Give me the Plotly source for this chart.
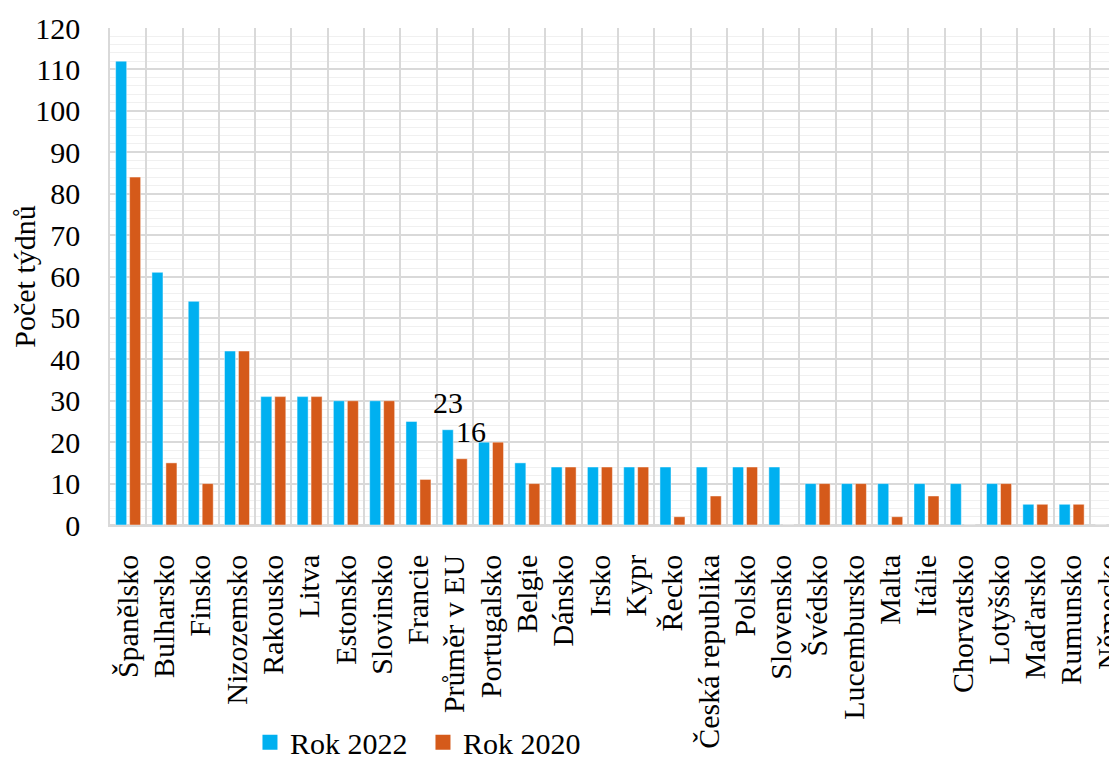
import plotly.graph_objects as go

categories = ["Španělsko", "Bulharsko", "Finsko", "Nizozemsko", "Rakousko", "Litva",
              "Estonsko", "Slovinsko", "Francie", "Průměr v EU", "Portugalsko", "Belgie",
              "Dánsko", "Irsko", "Kypr", "Řecko", "Česká republika", "Polsko", "Slovensko",
              "Švédsko", "Lucembursko", "Malta", "Itálie", "Chorvatsko", "Lotyšsko",
              "Maďarsko", "Rumunsko", "Německo"]
rok_2022 = [112, 61, 54, 42, 31, 31, 30, 30, 25, 23, 20, 15, 14, 14, 14, 14, 14, 14, 14,
            10, 10, 10, 10, 10, 10, 5, 5, 0]
rok_2020 = [84, 15, 10, 42, 31, 31, 30, 30, 11, 16, 20, 10, 14, 14, 14, 2, 7, 14, 0,
            10, 10, 2, 7, 0, 10, 5, 5, 0]
y_ticks = list(range(0, 121, 10))

FONT = "Liberation Serif"
SIZE = 30
BLUE = "#00B0F0"
ORANGE = "#D55A1A"

fig = go.Figure()
for name, vals, col in (("Rok 2022", rok_2022, BLUE), ("Rok 2020", rok_2020, ORANGE)):
    fig.add_trace(go.Bar(x=categories, y=vals, name=name, marker_color=col,
                         legendgroup=name, showlegend=False,
                         marker_line=dict(color="rgba(255,255,255,0.45)", width=1)))
# legend entries with larger square swatches
for name, col in (("Rok 2022", BLUE), ("Rok 2020", ORANGE)):
    fig.add_trace(go.Scatter(x=[None], y=[None], mode="markers", name=name,
                             legendgroup=name, showlegend=True,
                             marker=dict(symbol="square", size=15, color=col)))

# data labels for EU average
avg_idx = categories.index("Průměr v EU")
fig.add_annotation(x=categories[avg_idx], y=rok_2022[avg_idx], text=str(rok_2022[avg_idx]),
                   showarrow=False, xshift=-7, yshift=27, yanchor="middle",
                   font=dict(family=FONT, size=SIZE, color="black"))
fig.add_annotation(x=categories[avg_idx], y=rok_2020[avg_idx], text=str(rok_2020[avg_idx]),
                   showarrow=False, xshift=16, yshift=27, yanchor="middle",
                   font=dict(family=FONT, size=SIZE, color="black"))

fig.update_layout(
    width=1109, height=755,
    margin=dict(l=102, r=0, t=20, b=238, autoexpand=False),
    paper_bgcolor="white", plot_bgcolor="white",
    barmode="group", bargap=0.23, bargroupgap=0.21,
    font=dict(family=FONT, size=SIZE, color="black"),
    showlegend=True,
    legend=dict(orientation="h", x=0.139, xanchor="left", y=-0.385, yanchor="top",
                font=dict(family=FONT, size=SIZE), itemsizing="trace",
                traceorder="normal", itemwidth=30,
                entrywidth=128, entrywidthmode="pixels"),
)
fig.update_xaxes(
    type="category", categoryorder="array", categoryarray=categories,
    range=[-0.5, 27.25], tickangle=-90, tickson="boundaries",
    showgrid=True, gridcolor="#d9d9d9", gridwidth=1.5, ticks="", automargin=False,
    showline=True, linecolor="#d9d9d9", linewidth=1.5,
    tickfont=dict(family=FONT, size=SIZE), ticklabelstandoff=16,
)
fig.update_yaxes(
    range=[0, 120], tickvals=y_ticks, showgrid=True, gridcolor="#d9d9d9", gridwidth=1.5,
    minor=dict(dtick=2, showgrid=True, gridcolor="#f0f0f0", gridwidth=1),
    zeroline=True, zerolinecolor="#d9d9d9", zerolinewidth=1.5, automargin=False,
    showline=True, linecolor="#d9d9d9", linewidth=1.5,
    ticks="", tickfont=dict(family=FONT, size=SIZE), ticklabelstandoff=22,
    title=dict(text="Počet týdnů", font=dict(family=FONT, size=SIZE), standoff=12),
)

fig.write_html("out.html")
